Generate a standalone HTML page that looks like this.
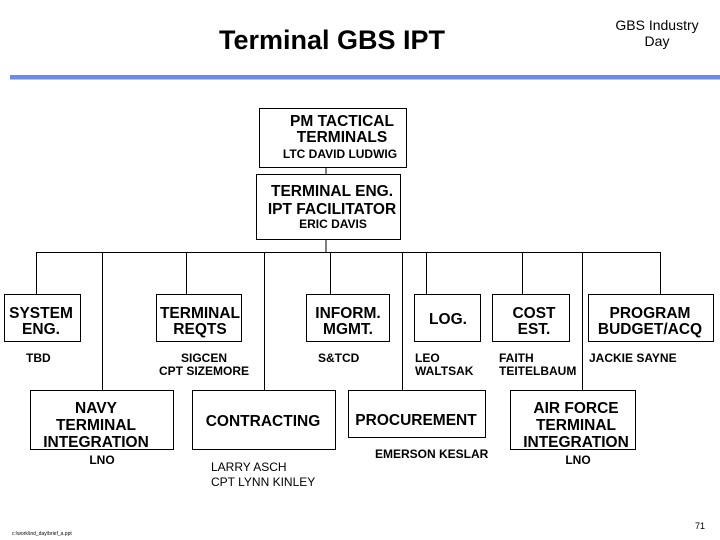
<!DOCTYPE html>
<html><head><style>
body{margin:0;width:720px;height:540px;background:#fff;overflow:hidden}
svg{display:block}
text{font-family:"Liberation Sans",Arial,sans-serif;fill:#000}
.b{font-weight:bold;font-size:15.5px}
.s{font-weight:bold;font-size:12px}
</style></head><body>
<svg width="720" height="540" viewBox="0 0 720 540">
<text x="332" y="49" text-anchor="middle" font-weight="bold" font-size="27">Terminal GBS IPT</text>
<text x="657" y="30" text-anchor="middle" font-size="14">GBS Industry</text>
<text x="657" y="46" text-anchor="middle" font-size="14">Day</text>
<rect x="10" y="75" width="710" height="4.5" fill="#6a8ce8"/>
<g fill="none" stroke="#000" stroke-width="1">
<rect x="259.5" y="108.5" width="147" height="59"/>
<rect x="256.5" y="174.5" width="144" height="65"/>
<line x1="326" y1="167" x2="326" y2="174"/>
<line x1="326" y1="239" x2="326" y2="252"/>
<line x1="36" y1="252.5" x2="660" y2="252.5"/>
<line x1="36.5" y1="252" x2="36.5" y2="294"/>
<line x1="102.5" y1="252" x2="102.5" y2="390"/>
<line x1="186.5" y1="252" x2="186.5" y2="294"/>
<line x1="264.5" y1="252" x2="264.5" y2="390"/>
<line x1="330.5" y1="252" x2="330.5" y2="294"/>
<line x1="402.5" y1="252" x2="402.5" y2="390"/>
<line x1="426.5" y1="252" x2="426.5" y2="294"/>
<line x1="522.5" y1="252" x2="522.5" y2="294"/>
<line x1="582.5" y1="252" x2="582.5" y2="390"/>
<line x1="660.5" y1="252" x2="660.5" y2="294"/>
<rect x="4.5" y="294.5" width="76" height="47"/>
<rect x="156.5" y="294.5" width="85" height="47"/>
<rect x="306.5" y="294.5" width="83" height="47"/>
<rect x="414.5" y="294.5" width="66" height="47"/>
<rect x="492.5" y="294.5" width="77" height="47"/>
<rect x="588.5" y="294.5" width="125" height="47"/>
<rect x="30.5" y="390.5" width="143" height="59"/>
<rect x="192.5" y="390.5" width="143" height="59"/>
<rect x="348.5" y="390.5" width="137" height="47"/>
<rect x="510.5" y="390.5" width="125" height="59"/>
</g>
<g class="b" text-anchor="middle">
<text x="342" y="126">PM TACTICAL</text>
<text x="342" y="142">TERMINALS</text>
<text x="332" y="196">TERMINAL ENG.</text>
<text x="332" y="214">IPT FACILITATOR</text>
<text x="41" y="318">SYSTEM</text><text x="41" y="334">ENG.</text>
<text x="200" y="318">TERMINAL</text><text x="200" y="334">REQTS</text>
<text x="348" y="318">INFORM.</text><text x="348" y="334">MGMT.</text>
<text x="448" y="324">LOG.</text>
<text x="534" y="318">COST</text><text x="534" y="334">EST.</text>
<text x="650" y="318">PROGRAM</text><text x="650" y="334">BUDGET/ACQ</text>
<text x="96" y="413">NAVY</text><text x="96" y="430">TERMINAL</text><text x="96" y="447">INTEGRATION</text>
<text x="263" y="426">CONTRACTING</text>
<text x="416" y="425">PROCUREMENT</text>
<text x="576" y="413">AIR FORCE</text><text x="576" y="430">TERMINAL</text><text x="576" y="447">INTEGRATION</text>
</g>
<g class="s">
<text x="340" y="158" text-anchor="middle">LTC DAVID LUDWIG</text>
<text x="333" y="228" text-anchor="middle">ERIC DAVIS</text>
<text x="26" y="362">TBD</text>
<text x="204" y="362" text-anchor="middle">SIGCEN</text>
<text x="204" y="375" text-anchor="middle">CPT SIZEMORE</text>
<text x="318" y="362">S&amp;TCD</text>
<text x="415" y="362">LEO</text><text x="415" y="375">WALTSAK</text>
<text x="499" y="362">FAITH</text><text x="499" y="375">TEITELBAUM</text>
<text x="589" y="362">JACKIE SAYNE</text>
<text x="102" y="464" text-anchor="middle">LNO</text>
<text x="375" y="458">EMERSON KESLAR</text>
<text x="578" y="464" text-anchor="middle">LNO</text>
</g>
<text x="211" y="471" font-size="12">LARRY ASCH</text>
<text x="211" y="486" font-size="12">CPT LYNN KINLEY</text>
<text x="12" y="535" font-size="5">c:\work\ind_day\brief_a.ppt</text>
<text x="700" y="529" font-size="9" text-anchor="middle">71</text>
</svg>
</body></html>
